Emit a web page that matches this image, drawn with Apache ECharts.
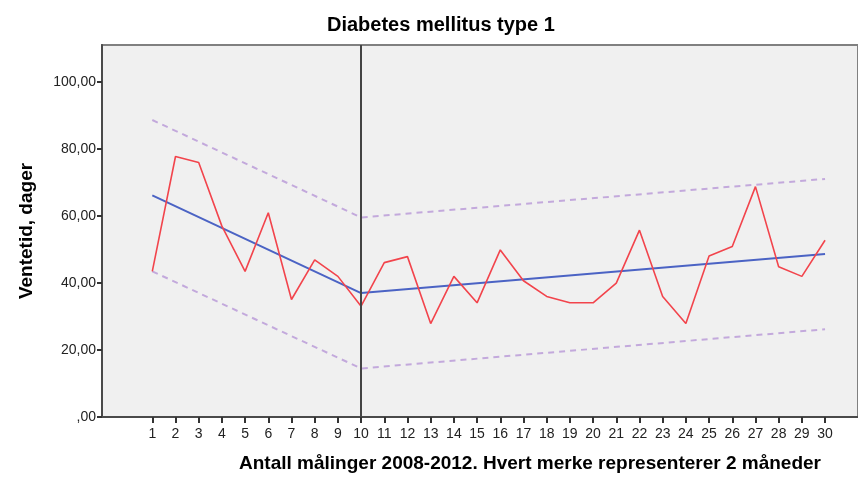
<!DOCTYPE html>
<html>
<head>
<meta charset="utf-8">
<script src="https://cdn.jsdelivr.net/npm/echarts@6/dist/echarts.min.js"></script>
<style>
  html, body { margin: 0; padding: 0; background: #ffffff; }
  #chart { width: 858px; height: 478px; }
</style>
</head>
<body>
<div id="chart"></div>
<script>
// Measurement index (each mark = 2 months)
const measurements = [1, 2, 3, 4, 5, 6, 7, 8, 9, 10, 11, 12, 13, 14, 15,
                      16, 17, 18, 19, 20, 21, 22, 23, 24, 25, 26, 27, 28, 29, 30];
// Waiting time in days
const waitDays = [43.5, 77.8, 76.0, 57.0, 43.5, 61.0, 35.1, 46.9, 42.0, 33.1,
                  46.1, 47.9, 27.9, 42.0, 34.1, 49.9, 40.7, 36.0, 34.1, 34.1,
                  40.0, 55.8, 36.0, 27.9, 48.1, 50.9, 68.8, 44.9, 42.0, 52.8];
// Segmented trend with break at measurement 10
const trendX = [1, 10, 30];
const trendY = [66.2, 37.0, 48.7];
const upperY = [88.7, 59.6, 71.1];
const lowerY = [43.5, 14.5, 26.2];
const breakPoint = 10;
// Axis ticks
const yTicks = [0, 20, 40, 60, 80, 100];
const xTicks = measurements;

const font = 'Arial, "Liberation Sans", sans-serif';
const pair = (xs, ys) => xs.map((x, i) => [x, ys[i]]);

const chart = echarts.init(document.getElementById('chart'), null, { renderer: 'canvas' });
chart.setOption({
  animation: false,
  backgroundColor: '#ffffff',
  title: {
    text: 'Diabetes mellitus type 1',
    left: 322,
    top: 10,
    textStyle: { fontFamily: font, fontSize: 20, fontWeight: 'bold', color: '#000' }
  },
  grid: {
    left: 102, right: -4, top: 45, bottom: 58,
    show: true,
    backgroundColor: '#f0f0f0',
    borderColor: '#808080',
    borderWidth: 2
  },
  xAxis: {
    type: 'value',
    min: -1.168,
    max: 31.42,
    name: 'Antall målinger 2008-2012. Hvert merke representerer 2 måneder',
    nameLocation: 'middle',
    nameGap: 37,
    nameTextStyle: {
      fontFamily: font, fontSize: 19, fontWeight: 'bold', color: '#000',
      padding: [0, 0, 0, 100]
    },
    splitLine: { show: false },
    axisLine: { show: true, onZero: false, lineStyle: { color: '#4a4a4a', width: 2 } },
    axisTick: { show: true, customValues: xTicks, length: 6, lineStyle: { color: '#333', width: 2 } },
    axisLabel: { customValues: xTicks, fontFamily: font, fontSize: 14, color: '#222', margin: 10 }
  },
  yAxis: {
    type: 'value',
    min: 0,
    max: 111.1,
    name: 'Ventetid, dager',
    nameLocation: 'middle',
    nameGap: 66,
    nameTextStyle: { fontFamily: font, fontSize: 19, fontWeight: 'bold', color: '#000' },
    splitLine: { show: false },
    axisLine: { show: true, onZero: false, lineStyle: { color: '#4a4a4a', width: 2 } },
    axisTick: { show: true, customValues: yTicks, length: 5, lineStyle: { color: '#333', width: 2 } },
    axisLabel: {
      customValues: yTicks,
      fontFamily: font, fontSize: 14, color: '#222', margin: 6,
      formatter: v => (v === 0 ? '' : String(v)) + ',00'
    }
  },
  series: [
    {
      name: 'Øvre grense',
      type: 'line',
      data: pair(trendX, upperY),
      symbol: 'none',
      lineStyle: { color: '#c3a9dc', width: 2, type: [6, 5] },
      z: 2
    },
    {
      name: 'Nedre grense',
      type: 'line',
      data: pair(trendX, lowerY),
      symbol: 'none',
      lineStyle: { color: '#c3a9dc', width: 2, type: [6, 5] },
      z: 2
    },
    {
      name: 'Trend',
      type: 'line',
      data: pair(trendX, trendY),
      symbol: 'none',
      lineStyle: { color: '#4b63c4', width: 2 },
      z: 3
    },
    {
      name: 'Ventetid',
      type: 'line',
      data: pair(measurements, waitDays),
      symbol: 'none',
      lineStyle: { color: '#f2444c', width: 1.6 },
      z: 4,
      markLine: {
        silent: true,
        symbol: 'none',
        label: { show: false },
        lineStyle: { color: '#444', width: 2, type: 'solid' },
        data: [{ xAxis: breakPoint }]
      }
    }
  ]
});
</script>
</body>
</html>
